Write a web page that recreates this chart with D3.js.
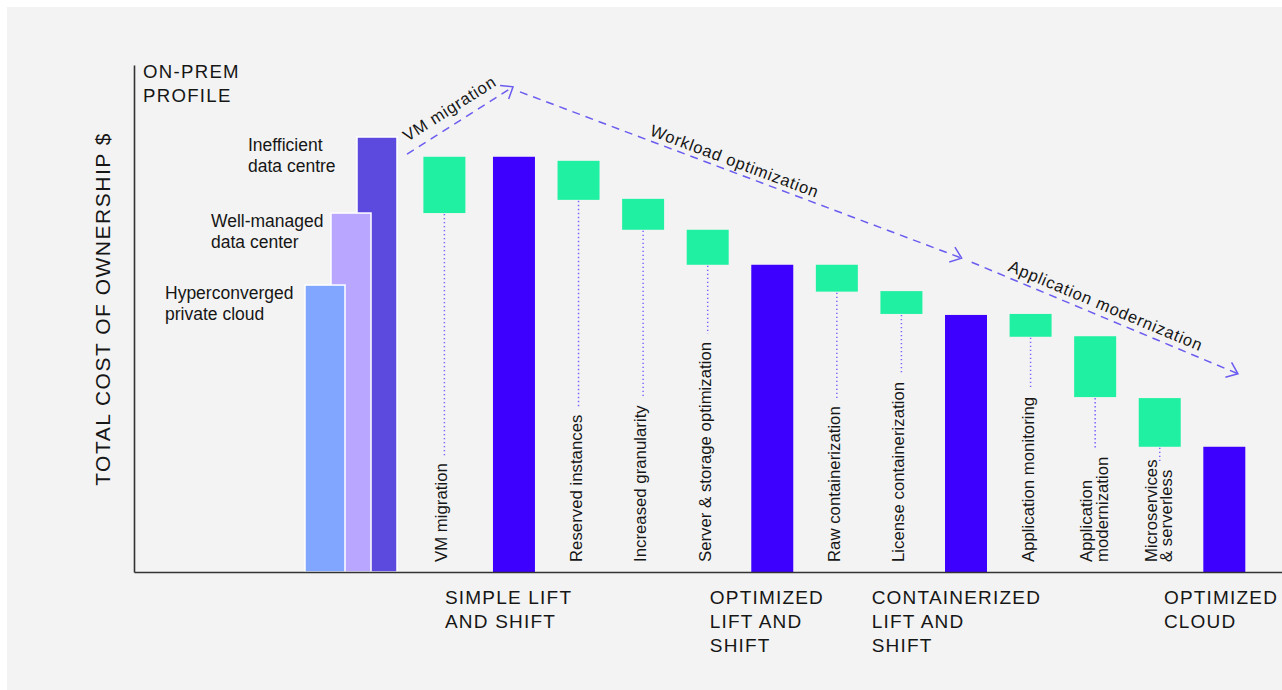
<!DOCTYPE html>
<html><head><meta charset="utf-8">
<script src="https://cdn.jsdelivr.net/npm/d3@7"></script>
<style>
html,body{margin:0;padding:0;background:#fff;}
svg{display:block;}
text{font-family:"Liberation Sans",Arial,Helvetica,sans-serif;fill:#161616;}
</style></head><body>
<svg id="chart" width="1282" height="690"></svg>
<script>
// ---------- DATA ----------
const onPremNames  = ["Hyperconverged private cloud", "Well-managed data center", "Inefficient data centre"];
const onPremLines  = [["Hyperconverged","private cloud"], ["Well-managed","data center"], ["Inefficient","data centre"]];
const onPremValues = [56.6, 70.8, 85.8];

const steps     = ["VM migration","Simple lift and shift","Reserved instances","Increased granularity",
                   "Server & storage optimization","Optimized lift and shift","Raw containerization",
                   "License containerization","Containerized lift and shift","Application monitoring",
                   "Application modernization","Microservices & serverless","Optimized cloud"];
const stepKind  = ["delta","total","delta","delta","delta","total","delta","delta","total","delta","delta","delta","total"];
const stepHigh  = [81.9, 81.9, 81.1, 73.6, 67.5, 60.6, 60.6, 55.4, 50.7, 50.9, 46.5, 34.3, 24.7];
const stepLow   = [70.8, 0,    73.4, 67.5, 60.6, 0,    55.3, 50.9, 0,    46.4, 34.5, 24.7, 0];
const stepLabel = [["VM migration"], null, ["Reserved instances"], ["Increased granularity"],
                   ["Server & storage optimization"], null, ["Raw containerization"],
                   ["License containerization"], null, ["Application monitoring"],
                   ["Application","modernization"], ["Microservices","& serverless"], null];

const stageSteps  = ["Simple lift and shift","Optimized lift and shift","Containerized lift and shift","Optimized cloud"];
const stageLines  = [["SIMPLE LIFT","AND SHIFT"], ["OPTIMIZED","LIFT AND","SHIFT"], ["CONTAINERIZED","LIFT AND","SHIFT"], ["OPTIMIZED","CLOUD"]];

const arrowLabels = ["VM migration", "Workload optimization", "Application modernization"];
const yTitle = "TOTAL COST OF OWNERSHIP $";
const profileTitle = ["ON-PREM", "PROFILE"];

// ---------- STYLE ----------
const C = {
  panel:"#f3f3f3", axis:"#333333", green:"#1ff0a1", blue:"#3d00ff",
  onPrem:["#80a6ff","#b8a6ff","#5c4ade"], dash:"#6b5cf0", dot:"#7a66ff"
};

const svg = d3.select("#chart");
svg.append("rect").attr("x",7).attr("y",7).attr("width",1282-7).attr("height",690-7).attr("fill",C.panel);

// ---------- SCALES ----------
const y = d3.scaleLinear().domain([0,100]).range([572,65]);
const x = d3.scaleBand().domain(steps).range([428.4,1245.3]).paddingInner(0.35).paddingOuter(0);
const bw = x.bandwidth();
const xi = d3.scaleLinear().domain([0, steps.length-1]).range([x(steps[0]), x(steps[steps.length-1])]); // index scale for annotations
const xp = d3.scalePoint().domain(onPremNames).range([305,357]);
const opW = 40;
const xAxisScale = d3.scaleLinear().domain([0,1]).range([134,1282]);
// the first step sits a little further left than the regular spacing
const stepShift = s => s===steps[0] ? -5 : 0;

// ---------- ON-PREM BARS (back to front) ----------
const opOrder = [2,1,0];
svg.append("g").selectAll("rect").data(opOrder).join("rect")
  .attr("x",i=>xp(onPremNames[i])).attr("y",i=>y(onPremValues[i]))
  .attr("width",opW).attr("height",i=>y(0)-y(onPremValues[i]))
  .attr("fill",i=>C.onPrem[i]).attr("stroke","#ffffff").attr("stroke-width",1.5);
const opLabelShift = [140,120,109];
onPremLines.forEach((lines,i)=>{
  const lx = xp(onPremNames[i]) - opLabelShift[i];
  const t = svg.append("text").attr("x",lx).attr("y",y(onPremValues[i])+14).attr("font-size",17.5);
  lines.forEach((s,j)=>t.append("tspan").attr("x",lx).attr("dy",j?21:0).text(s));
});

// ---------- WATERFALL BARS ----------
svg.append("g").selectAll("rect").data(steps).join("rect")
  .attr("x",d=>x(d)+stepShift(d)).attr("width",bw)
  .attr("y",(d,i)=>y(stepHigh[i])).attr("height",(d,i)=>y(stepLow[i])-y(stepHigh[i]))
  .attr("fill",(d,i)=>stepKind[i]==="total"?C.blue:C.green);

// vertical labels + dotted leaders
const baseY = 562;
steps.forEach((d,i)=>{
  const lines = stepLabel[i];
  if(!lines) return;
  const cx = x(d)+stepShift(d)+bw/2;
  const two = lines.length>1;
  const tx = two ? cx-3 : cx+3;
  const t = svg.append("text").attr("transform",`translate(${tx},${baseY}) rotate(-90)`).attr("font-size",16.8);
  const spans = lines.map((s,j)=>t.append("tspan").attr("x",0).attr("dy",j?15.7:0).text(s));
  const len = spans[spans.length-1].node().getComputedTextLength();
  const yEnd = baseY - len - 8;
  svg.append("line").attr("x1",cx).attr("x2",cx).attr("y1",y(stepLow[i])+1).attr("y2",yEnd)
    .attr("stroke",C.dot).attr("stroke-width",1.5).attr("stroke-dasharray","1.3 2.7");
});

// ---------- AXES (on top of bars) ----------
svg.append("g").attr("transform","translate(134,0)")
  .call(d3.axisLeft(y).ticks(0).tickSize(0).tickSizeOuter(0))
  .call(g=>g.select(".domain").attr("stroke",C.axis).attr("stroke-width",1.6));
svg.append("g").attr("transform",`translate(0,${y(0)})`)
  .call(d3.axisBottom(xAxisScale).ticks(0).tickSize(0).tickSizeOuter(0))
  .call(g=>g.select(".domain").attr("stroke",C.axis).attr("stroke-width",1.6));

// y title
svg.append("text").attr("transform",`translate(110,${(130+488)/2}) rotate(-90)`)
  .attr("text-anchor","middle").attr("font-size",21).attr("letter-spacing",1.5).text(yTitle);

// profile title
const pt = svg.append("text").attr("x",143).attr("y",78.3).attr("font-size",18.6).attr("letter-spacing",1.3);
profileTitle.forEach((t,i)=>pt.append("tspan").attr("x",143).attr("dy", i?23.4:0).text(t));

// stage labels
const stageDx = [-48,-41.5,-73.3,-39.4];
stageSteps.forEach((s,i)=>{
  const lx = x(s)+stageDx[i];
  const t = svg.append("text").attr("x",lx).attr("y",604).attr("font-size",19).attr("letter-spacing",1.2);
  stageLines[i].forEach((l,j)=>t.append("tspan").attr("x",lx).attr("dy",j?23.8:0).text(l));
});

// ---------- ARROWS ----------
const arrows = [
  {a:[-0.331,82.4], b:[1.31,95.7],  along:7,   off:10},
  {a:[1.418,94.7],  b:[8.258,61.9], along:136, off:5},
  {a:[8.413,61.1],  b:[12.536,39.1],along:36,  off:6}
];
arrows.forEach((ar,i)=>{
  const x0=xi(ar.a[0]), y0=y(ar.a[1]), x1=xi(ar.b[0]), y1=y(ar.b[1]);
  svg.append("line").attr("x1",x0).attr("y1",y0).attr("x2",x1).attr("y2",y1)
    .attr("stroke",C.dash).attr("stroke-width",1.5).attr("stroke-dasharray","8 6");
  const ang = Math.atan2(y1-y0,x1-x0);
  const L=13, h=38*Math.PI/180;
  const p1=[x1-L*Math.cos(ang-h), y1-L*Math.sin(ang-h)];
  const p2=[x1-L*Math.cos(ang+h), y1-L*Math.sin(ang+h)];
  svg.append("path").attr("d",d3.line()([p1,[x1,y1],p2])).attr("fill","none")
    .attr("stroke",C.dash).attr("stroke-width",1.5);
  const ux=Math.cos(ang), uy=Math.sin(ang), nx=uy, ny=-ux;
  const sx=x0+ux*ar.along+nx*ar.off, sy=y0+uy*ar.along+ny*ar.off;
  svg.append("text").attr("transform",`translate(${sx},${sy}) rotate(${ang*180/Math.PI})`)
    .attr("font-size",16.5).attr("letter-spacing",0.8).text(arrowLabels[i]);
});
</script>
</body></html>
